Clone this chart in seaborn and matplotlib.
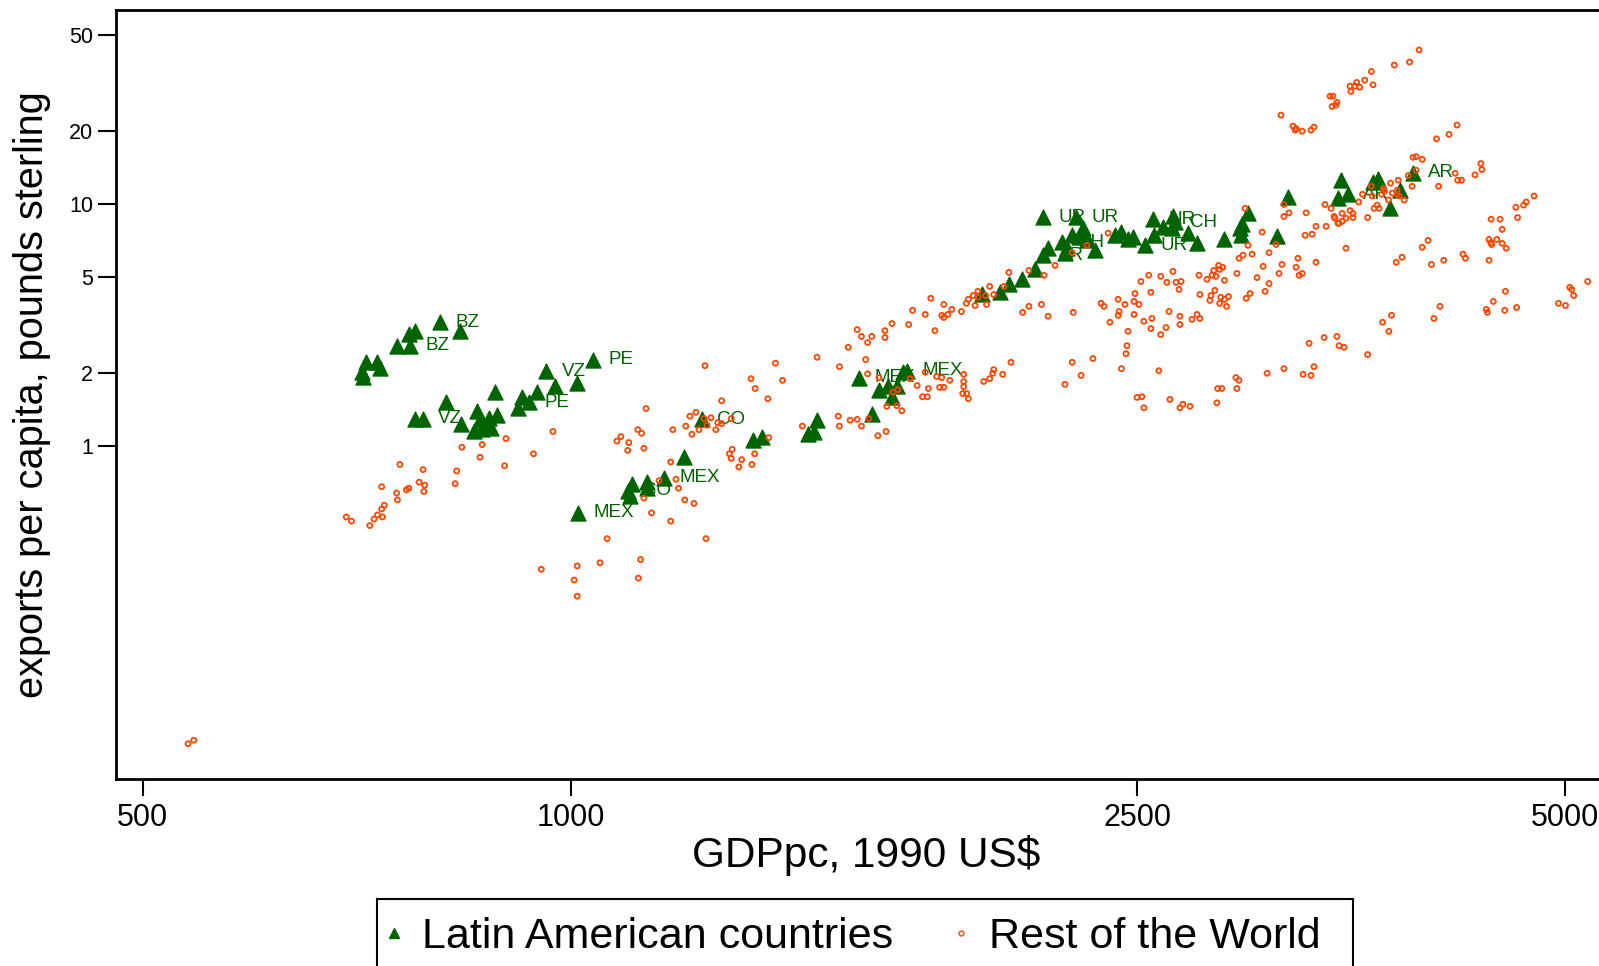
import matplotlib
matplotlib.use("Agg")
import matplotlib.pyplot as plt
import numpy as np
import pandas as pd
import seaborn as sns
from matplotlib.lines import Line2D
from matplotlib.patches import Rectangle
from matplotlib.ticker import FixedLocator, FixedFormatter, NullLocator

# ---------------- data ----------------
# Latin American countries: GDP per capita (1990 US$), exports per capita (pounds sterling)
la_gdp = [809, 835, 777, 769, 754, 771, 718, 730, 734, 713, 714,
          1036, 961, 1010, 974, 947, 923, 934, 917, 884, 817,
          787, 777, 859, 837, 863, 875, 887, 855, 866, 878, 1011,
          1200, 1236, 1103, 1096, 1100, 1130, 1130, 1162, 1342, 1362,
          1468, 1482, 1489, 1594, 1646, 1670, 1681, 1694, 1711, 1722, 1627,
          2146, 2264, 2250, 2290, 2297, 2305, 2214, 2164, 2146, 2231,
          2224, 2335, 2119, 2075, 2031, 2002, 1946, 2276,
          2412, 2437, 2483, 2463, 2532, 2569, 2565, 2607, 2645, 2649,
          2658, 2714, 2754, 2877, 2957, 2962, 2991, 2952, 3135, 3191,
          3477, 3459, 3517, 3662, 3690, 3826, 3761, 3907]
la_exp = [3.25, 3.0, 3.0, 2.9, 2.6, 2.6, 2.22, 2.22, 2.1, 2.03, 1.93,
          2.28, 2.04, 1.83, 1.78, 1.68, 1.59, 1.52, 1.44, 1.67, 1.52,
          1.30, 1.30, 1.40, 1.24, 1.28, 1.31, 1.34, 1.16, 1.18, 1.19, 0.53,
          0.90, 1.29, 0.70, 0.655, 0.625, 0.71, 0.67, 0.74, 1.06, 1.095,
          1.12, 1.14, 1.28, 1.92, 1.70, 1.78, 1.59, 1.78, 2.02, 2.05, 1.36,
          8.82, 8.82, 7.43, 7.94, 7.43, 7.08, 6.95, 6.57, 6.15, 6.57,
          6.27, 6.44, 5.37, 4.89, 4.66, 4.32, 4.27, 7.29,
          7.43, 7.66, 7.29, 7.2, 6.75, 7.43, 8.65, 8.01, 7.94, 8.97,
          8.42, 7.58, 6.88, 7.2, 7.43, 8.26, 9.15, 7.94, 7.35, 10.7,
          12.55, 10.57, 10.97, 12.3, 12.7, 11.4, 9.6, 13.5]
la_lab = ["BZ", "", "", "", "", "BZ", "", "", "", "", "",
          "PE", "VZ", "", "", "", "", "PE", "", "", "",
          "VZ", "", "", "", "", "", "", "", "", "", "MEX",
          "", "CO", "", "CO", "", "", "", "MEX", "", "",
          "", "", "", "MEX", "", "", "", "", "", "MEX", "",
          "UR", "UR", "", "", "", "", "CH", "", "AR", "",
          "", "", "", "", "", "", "", "",
          "", "", "", "", "UR", "", "UR", "", "", "",
          "CH", "", "", "", "", "", "", "", "", "",
          "", "", "AR", "", "", "", "", "AR"]

# Rest of the World
row_gdp = [971, 900, 866, 838, 863, 941, 898, 758, 787, 831,
           829, 782, 789, 788, 736, 754, 766, 769, 755, 739,
           736, 737, 731, 727, 722, 695, 701, 953, 1010, 1005,
           1010, 1048, 538, 543, 1242, 1129, 1077, 1084, 1098, 1096,
           1114, 1121, 1125, 1179, 1175, 1185, 1153, 1190, 1202, 1220,
           1125, 1139, 1175, 1060, 1244, 1119, 1115, 1212, 1224, 1204,
           1216, 1230, 1246, 1254, 1240, 1264, 1268, 1276, 1276, 1296,
           1338, 1347, 1392, 1408, 1375, 1377, 1298, 1292, 1296, 1318,
           1312, 1346, 1340, 1454, 1489, 1544, 1566, 1611, 1616, 1600,
           1627, 1662, 1541, 1544, 1571, 1589, 1619, 1600, 1643, 1665,
           1667, 1694, 1708, 1684, 1697, 1731, 1751, 1774, 1783, 1766,
           1780, 1807, 1822, 1846, 1816, 1828, 1888, 1888, 1888, 1885,
           1897, 1902, 1802, 1616, 1646, 1589, 1662, 1681, 1727, 1738,
           1774, 1790, 1822, 1828, 1840, 1852, 1828, 1881, 1896, 1902,
           1917, 1923, 1932, 1932, 1959, 1956, 1969, 1982, 2015, 2031,
           2098, 2150, 2189, 2250, 2305, 2077, 2098, 2141, 2164, 2254,
           2038, 1982, 1979, 1969, 1950, 2011, 2250, 2327, 2283, 2224,
           2437, 2589, 2499, 2519, 2527, 2636, 2679, 2692, 2723, 2844,
           2848, 2358, 2369, 2392, 2424, 2451, 2487, 2507, 2487, 2428,
           2424, 2491, 2463, 2459, 2455, 2527, 2560, 2556, 2597, 2619,
           2632, 2679, 2679, 2732, 2754, 2767, 2385, 2515, 2547, 2597,
           2623, 2649, 2662, 2684, 2675, 2556, 2763, 2799, 2767, 2817,
           2812, 2835, 2862, 2879, 2898, 2889, 2857, 2879, 2822, 2840,
           2830, 2857, 2852, 2871, 2938, 2948, 2967, 3011, 2991, 2977,
           3060, 3095, 3065, 3035, 3095, 3075, 3001, 2982, 3145, 3160,
           3130, 3170, 3170, 3196, 3286, 3281, 3318, 3339, 3339, 3243,
           3233, 3249, 3265, 3302, 3328, 3312, 3270, 3170, 3085, 2933,
           2948, 2938, 2867, 3945, 3885, 3790, 3652, 3662, 3613, 3566,
           3584, 3528, 3556, 3533, 3416, 3432, 3454, 3448, 3427, 3155,
           3217, 3233, 3228, 3265, 3312, 3328, 4195, 4141, 4058, 3965,
           3926, 3907, 3877, 3926, 3814, 3767, 3901, 4072, 4182, 4200,
           4226, 4319, 4367, 4360, 4752, 4692, 4673, 4614, 4627, 4498,
           4433, 4513, 3808, 3778, 3730, 3713, 3657, 3652, 3724, 3600,
           3578, 3668, 3686, 3698, 3755, 3808, 3820, 3851, 3388, 3421,
           3483, 3528, 3545, 3545, 3505, 3483, 3466, 3460, 3443, 3438,
           3630, 3394, 3505, 4418, 4474, 4431, 4437, 4513, 4543, 4418,
           4236, 4253, 4003, 3965, 4106, 4025, 3838, 3802, 5183, 5035,
           5051, 5067, 4944, 5000, 4537, 4449, 4399, 4406, 4532, 4620,
           4081, 4041, 3773, 3719, 3757, 3454, 3383, 3466, 3494, 3630]
row_exp = [1.15, 1.075, 1.015, 0.99, 0.90, 0.93, 0.83, 0.84, 0.80, 0.79,
           0.70, 0.71, 0.69, 0.65, 0.68, 0.64, 0.66, 0.67, 0.60, 0.57,
           0.55, 0.51, 0.52, 0.50, 0.47, 0.51, 0.49, 0.31, 0.32, 0.28,
           0.24, 0.33, 0.059, 0.061, 2.15, 1.43, 1.05, 1.095, 1.035, 0.96,
           1.17, 1.13, 0.98, 1.17, 0.86, 0.73, 0.72, 0.67, 0.60, 0.58,
           0.61, 0.53, 0.49, 0.415, 0.415, 0.34, 0.285, 1.33, 1.38, 1.21,
           1.12, 1.17, 1.22, 1.31, 1.30, 1.17, 1.25, 1.24, 1.54, 1.30,
           1.90, 1.73, 2.20, 1.87, 1.57, 1.085, 0.97, 0.93, 0.89, 0.88,
           0.82, 0.93, 0.84, 1.21, 2.33, 2.13, 2.56, 2.28, 2.68, 2.84,
           2.84, 2.81, 1.33, 1.21, 1.28, 1.29, 1.30, 1.21, 1.105, 1.15,
           1.46, 1.47, 1.40, 1.67, 1.71, 1.90, 1.78, 2.02, 1.73, 1.60,
           1.60, 1.94, 1.92, 1.87, 1.75, 1.75, 1.98, 1.85, 1.76, 1.65,
           1.65, 1.57, 3.0, 1.99, 1.92, 3.03, 3.0, 3.21, 3.18, 3.64,
           3.50, 4.08, 3.47, 3.40, 3.50, 3.67, 3.85, 3.60, 3.89, 4.04,
           4.19, 3.81, 4.36, 4.12, 3.85, 4.19, 4.57, 4.23, 4.57, 5.22,
           5.32, 5.08, 5.58, 6.3, 6.75, 3.57, 3.78, 3.85, 3.44, 3.57,
           2.22, 2.07, 2.0, 1.90, 1.85, 1.98, 2.22, 2.30, 1.96, 1.80,
           2.09, 2.05, 1.59, 1.60, 1.44, 1.56, 1.44, 1.49, 1.46, 1.51,
           1.73, 3.89, 3.78, 3.25, 4.04, 3.85, 3.96, 3.85, 3.50, 3.60,
           3.47, 4.27, 2.98, 2.60, 2.41, 3.28, 3.37, 3.06, 2.89, 3.09,
           3.60, 3.44, 3.18, 3.34, 3.50, 3.37, 7.58, 4.79, 5.08, 5.03,
           4.75, 5.27, 4.75, 4.79, 4.44, 4.32, 5.08, 4.89, 4.23, 4.19,
           4.0, 4.40, 4.12, 4.04, 4.15, 3.78, 3.89, 4.84, 5.08, 5.03,
           5.32, 5.37, 5.58, 5.48, 5.17, 5.97, 6.15, 6.21, 6.75, 9.6,
           7.66, 6.3, 5.53, 4.97, 4.70, 4.36, 4.27, 4.08, 5.17, 5.63,
           6.81, 8.89, 9.96, 9.2, 9.2, 7.43, 7.51, 8.09, 5.75, 5.97,
           5.48, 5.08, 5.17, 2.66, 2.13, 1.96, 1.98, 2.09, 2.0, 1.92,
           1.87, 1.73, 1.73, 43.3, 38.6, 37.5, 35.3, 31.1, 32.5, 31.8,
           30.4, 30.7, 30.7, 29.2, 27.9, 27.9, 26.3, 25.6, 25.3, 23.3,
           21.0, 20.5, 20.2, 20.0, 20.2, 20.8, 21.2, 19.4, 18.6, 15.3,
           15.7, 15.6, 13.1, 13.8, 12.55, 12.2, 11.85, 11.85, 13.4, 12.55,
           12.55, 13.2, 13.9, 14.7, 10.8, 10.2, 9.9, 9.7, 8.8, 8.66,
           8.66, 7.86, 11.4, 11.1, 11.3, 10.97, 10.8, 11.85, 11.6, 10.97,
           10.2, 9.6, 9.9, 9.6, 10.4, 10.97, 10.8, 10.4, 9.96, 9.6,
           9.15, 9.4, 9.15, 8.8, 8.74, 8.49, 8.33, 8.33, 8.74, 8.89,
           8.8, 8.09, 6.57, 7.14, 7.14, 6.93, 6.81, 6.88, 6.57, 5.86,
           6.21, 5.97, 7.08, 6.63, 5.86, 5.63, 6.03, 5.75, 4.79, 4.53,
           4.44, 4.19, 3.89, 3.81, 4.36, 3.96, 3.67, 3.57, 3.64, 3.74,
           3.78, 3.37, 3.47, 3.25, 2.98, 2.84, 2.81, 2.60, 2.56, 2.39]

x_ticks = [500, 1000, 2500, 5000]
y_ticks = [1, 2, 5, 10, 20, 50]
series_names = ["Latin American countries", "Rest of the World"]
x_title = "GDPpc, 1990 US\\$"
y_title = "exports per capita, pounds sterling"

# ---------------- style ----------------
GREEN = "#006400"
ORANGE = "#FF4500"
W, H = 1599, 966

sns.set_theme(style="white")
plt.rcParams["font.family"] = ["Liberation Sans", "DejaVu Sans"]
plt.rcParams["text.color"] = "black"
plt.rcParams["axes.labelcolor"] = "black"
plt.rcParams["xtick.color"] = "black"
plt.rcParams["ytick.color"] = "black"

fig = plt.figure(figsize=(W / 100, H / 100), dpi=100)
fig.patch.set_facecolor("white")
ax_left, ax_right, ax_top, ax_bottom = 116, 1613, 10, 779
ax = fig.add_axes([ax_left / W, 1 - ax_bottom / H,
                   (ax_right - ax_left) / W, (ax_bottom - ax_top) / H])

la = pd.DataFrame({"gdp": la_gdp, "exp": la_exp, "lab": la_lab})
row = pd.DataFrame({"gdp": row_gdp, "exp": row_exp})

sns.scatterplot(data=la, x="gdp", y="exp", marker="^", s=118, color=GREEN,
                edgecolor=GREEN, linewidth=0.9, ax=ax, legend=False, zorder=2)
sns.scatterplot(data=row, x="gdp", y="exp", marker="o", s=13, ax=ax,
                legend=False, zorder=3)
pts = ax.collections[-1]
pts.set_facecolor("none")
pts.set_edgecolor(ORANGE)
pts.set_linewidth(1.3)

ax.set_xscale("log")
ax.set_yscale("log")
ax.set_xlim(478.8, 5400)
ax.set_ylim(0.04218, 63.34)

for _, r in la[la["lab"] != ""].iterrows():
    ax.annotate(r["lab"], (r["gdp"], r["exp"]), xytext=(11, 0),
                textcoords="offset points", ha="left", va="center",
                fontsize=13.5, color=GREEN, zorder=2)

ax.xaxis.set_major_locator(FixedLocator(x_ticks))
ax.xaxis.set_major_formatter(FixedFormatter([str(v) for v in x_ticks]))
ax.yaxis.set_major_locator(FixedLocator(y_ticks))
ax.yaxis.set_major_formatter(FixedFormatter([str(v) for v in y_ticks]))
ax.xaxis.set_minor_locator(NullLocator())
ax.yaxis.set_minor_locator(NullLocator())
ax.tick_params(axis="x", which="major", length=12, width=1.5, pad=5,
               labelsize=22, color="black", labelcolor="black", bottom=True)
ax.tick_params(axis="y", which="major", length=13, width=1.5, pad=3.6,
               labelsize=15.5, color="black", labelcolor="black", left=True)
ax.set_xlabel("")
ax.set_ylabel("")
for sp in ax.spines.values():
    sp.set_visible(True)
    sp.set_color("black")
    sp.set_linewidth(2)
ax.grid(False)

fig.text(866 / W, 1 - 855 / H, x_title, ha="center", va="center",
         fontsize=30.5, color="black")
fig.text(32 / W, 1 - 395 / H, y_title, rotation=90, ha="center", va="center",
         fontsize=28.6, color="black")

handles = [Line2D([], [], ls="none", marker="^", color=GREEN, markersize=7),
           Line2D([], [], ls="none", marker="o", mfc="none", mec=ORANGE,
                  markersize=3.5, mew=1)]
leg = fig.legend(handles, series_names, loc="center left",
                 bbox_to_anchor=(383 / W, 1 - 937 / H), ncol=2, frameon=False,
                 fontsize=31, handlelength=0.5, handletextpad=0.4,
                 columnspacing=1.33, borderpad=0, borderaxespad=0)
for t in leg.get_texts():
    t.set_color("black")
fig.add_artist(Rectangle((377 / W, -0.05), (1353 - 377) / W, 0.05 + (1 - 899 / H),
                         transform=fig.transFigure, fill=False, lw=1.5,
                         ec="black"))

fig.savefig("out.png", dpi=100)
